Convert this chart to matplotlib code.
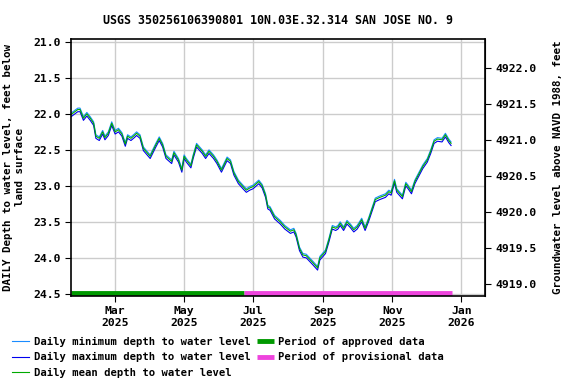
import matplotlib
matplotlib.use("Agg")
import matplotlib.pyplot as plt
import matplotlib.dates as mdates
import pandas as pd

fechas = [
    "2025-01-21", "2025-01-27", "2025-01-29", "2025-02-01", "2025-02-04", "2025-02-07", "2025-02-10", "2025-02-12", "2025-02-15", "2025-02-18",
    "2025-02-20", "2025-02-23", "2025-02-26", "2025-03-01", "2025-03-04", "2025-03-07", "2025-03-10", "2025-03-12", "2025-03-15", "2025-03-18",
    "2025-03-20", "2025-03-23", "2025-03-26", "2025-04-01", "2025-04-06", "2025-04-09", "2025-04-12", "2025-04-15", "2025-04-20", "2025-04-22",
    "2025-04-26", "2025-04-29", "2025-05-01", "2025-05-03", "2025-05-07", "2025-05-09", "2025-05-12", "2025-05-17", "2025-05-20", "2025-05-23",
    "2025-05-27", "2025-05-30", "2025-06-03", "2025-06-08", "2025-06-11", "2025-06-14", "2025-06-18", "2025-06-22", "2025-06-25", "2025-06-28",
    "2025-07-01", "2025-07-06", "2025-07-09", "2025-07-12", "2025-07-14", "2025-07-16", "2025-07-20", "2025-07-25", "2025-07-29", "2025-08-03",
    "2025-08-06", "2025-08-08", "2025-08-11", "2025-08-14", "2025-08-17", "2025-08-20", "2025-08-23", "2025-08-27", "2025-08-29", "2025-09-03",
    "2025-09-06", "2025-09-09", "2025-09-12", "2025-09-14", "2025-09-16", "2025-09-19", "2025-09-22", "2025-09-25", "2025-09-28", "2025-10-01",
    "2025-10-05", "2025-10-08", "2025-10-11", "2025-10-14", "2025-10-17", "2025-10-21", "2025-10-26", "2025-10-29", "2025-10-31", "2025-11-03",
    "2025-11-05", "2025-11-10", "2025-11-13", "2025-11-15", "2025-11-18", "2025-11-21", "2025-11-24", "2025-11-28", "2025-12-02", "2025-12-05",
    "2025-12-08", "2025-12-11", "2025-12-15", "2025-12-18", "2025-12-21", "2025-12-23",
]

prof_media = [
    22.01, 21.94, 21.94, 22.06, 22.00, 22.06, 22.13, 22.31, 22.34, 22.25,
    22.33, 22.27, 22.13, 22.25, 22.22, 22.28, 22.42, 22.31, 22.34, 22.30,
    22.27, 22.31, 22.48, 22.59, 22.43, 22.34, 22.43, 22.59, 22.66, 22.54,
    22.64, 22.78, 22.59, 22.64, 22.72, 22.59, 22.43, 22.52, 22.59, 22.52,
    22.59, 22.66, 22.78, 22.62, 22.66, 22.82, 22.94, 23.01, 23.06, 23.03,
    23.01, 22.94, 23.00, 23.13, 23.29, 23.31, 23.43, 23.50, 23.57, 23.63,
    23.61, 23.68, 23.87, 23.96, 23.97, 24.02, 24.07, 24.14, 24.00, 23.91,
    23.75, 23.57, 23.59, 23.57, 23.52, 23.59, 23.50, 23.55, 23.61, 23.57,
    23.47, 23.59, 23.47, 23.33, 23.19, 23.16, 23.13, 23.08, 23.10, 22.93,
    23.06, 23.15, 22.97, 23.01, 23.08, 22.94, 22.85, 22.73, 22.64, 22.52,
    22.38, 22.35, 22.36, 22.29, 22.37, 22.41,
]

prof_min = [
    21.99, 21.92, 21.92, 22.04, 21.98, 22.04, 22.11, 22.29, 22.32, 22.23,
    22.31, 22.25, 22.11, 22.23, 22.20, 22.26, 22.40, 22.29, 22.32, 22.28,
    22.25, 22.29, 22.46, 22.57, 22.41, 22.32, 22.41, 22.57, 22.64, 22.52,
    22.62, 22.76, 22.57, 22.62, 22.70, 22.57, 22.41, 22.50, 22.57, 22.50,
    22.57, 22.64, 22.76, 22.60, 22.64, 22.80, 22.92, 22.99, 23.04, 23.01,
    22.99, 22.92, 22.98, 23.11, 23.27, 23.29, 23.41, 23.48, 23.55, 23.61,
    23.59, 23.66, 23.85, 23.94, 23.95, 24.00, 24.05, 24.12, 23.98, 23.89,
    23.73, 23.55, 23.57, 23.55, 23.50, 23.57, 23.48, 23.53, 23.59, 23.55,
    23.45, 23.57, 23.45, 23.31, 23.17, 23.14, 23.11, 23.06, 23.08, 22.91,
    23.04, 23.13, 22.95, 22.99, 23.06, 22.92, 22.83, 22.71, 22.62, 22.50,
    22.36, 22.33, 22.34, 22.27, 22.35, 22.39,
]

prof_max = [
    22.04, 21.97, 21.97, 22.09, 22.03, 22.09, 22.16, 22.34, 22.37, 22.28,
    22.36, 22.30, 22.16, 22.28, 22.25, 22.31, 22.45, 22.34, 22.37, 22.33,
    22.30, 22.34, 22.51, 22.62, 22.46, 22.37, 22.46, 22.62, 22.69, 22.57,
    22.67, 22.81, 22.62, 22.67, 22.75, 22.62, 22.46, 22.55, 22.62, 22.55,
    22.62, 22.69, 22.81, 22.65, 22.69, 22.85, 22.97, 23.04, 23.09, 23.06,
    23.04, 22.97, 23.03, 23.16, 23.32, 23.34, 23.46, 23.53, 23.60, 23.66,
    23.64, 23.71, 23.90, 23.99, 24.00, 24.05, 24.10, 24.17, 24.03, 23.94,
    23.78, 23.60, 23.62, 23.60, 23.55, 23.62, 23.53, 23.58, 23.64, 23.60,
    23.50, 23.62, 23.50, 23.36, 23.22, 23.19, 23.16, 23.11, 23.13, 22.96,
    23.09, 23.18, 23.00, 23.04, 23.11, 22.97, 22.88, 22.76, 22.67, 22.55,
    22.41, 22.38, 22.39, 22.32, 22.40, 22.44,
]

# periodos de aprobacion
aprobado = ("2025-01-21", "2025-06-23")
provisional = ("2025-06-23", "2025-12-24")

# elevacion = referencia - profundidad
referencia = 4943.36

fechas = pd.to_datetime(fechas)
fuente = "DejaVu Sans Mono"

fig = plt.figure(figsize=(5.76, 3.84), dpi=100)
ax = fig.add_axes([71/576, 1 - 296/384, (485 - 71)/576, (296 - 39)/384])

ax.plot(fechas, prof_min, color="#1a8cff", lw=0.8, label="Daily minimum depth to water level")
ax.plot(fechas, prof_max, color="#0000ee", lw=0.8, label="Daily maximum depth to water level")
ax.plot(fechas, prof_media, color="#00aa00", lw=0.8, label="Daily mean depth to water level")

y_barra = 24.49
ax.plot(pd.to_datetime(list(aprobado)), [y_barra, y_barra], color="#009900", lw=3.5,
        solid_capstyle="butt", label="Period of approved data")
ax.plot(pd.to_datetime(list(provisional)), [y_barra, y_barra], color="#ee44dd", lw=3.5,
        solid_capstyle="butt", label="Period of provisional data")

ax.set_xlim(pd.Timestamp("2025-01-21"), pd.Timestamp("2026-01-22"))
ax.set_ylim(24.53, 20.96)
ax.set_yticks([21.0, 21.5, 22.0, 22.5, 23.0, 23.5, 24.0, 24.5])
ax.yaxis.set_major_formatter(plt.FormatStrFormatter("%.1f"))

ticks_x = pd.to_datetime(["2025-03-01", "2025-05-01", "2025-07-01", "2025-09-01", "2025-11-01", "2026-01-01"])
ax.set_xticks(ticks_x)
ax.xaxis.set_major_formatter(mdates.DateFormatter("%b\n%Y"))

ax.grid(True, color="#cccccc", lw=1)
ax.set_axisbelow(True)
for s in ax.spines.values():
    s.set_linewidth(1.2)

ax.tick_params(labelsize=8.2, length=4)
for lab in ax.get_xticklabels() + ax.get_yticklabels():
    lab.set_fontfamily(fuente)
    lab.set_fontweight("bold")

ax2 = ax.secondary_yaxis("right", functions=(lambda d: referencia - d, lambda e: referencia - e))
ax2.set_yticks([4919.0, 4919.5, 4920.0, 4920.5, 4921.0, 4921.5, 4922.0])
ax2.yaxis.set_major_formatter(plt.FormatStrFormatter("%.1f"))
ax2.tick_params(labelsize=8.2, length=4)
for lab in ax2.get_yticklabels():
    lab.set_fontfamily(fuente)
    lab.set_fontweight("bold")

ax.set_ylabel("DAILY Depth to water level, feet below\nland surface", fontsize=7.8,
              fontfamily=fuente, fontweight="bold", linespacing=1.2, labelpad=6)
ax2.set_ylabel("Groundwater level above NAVD 1988, feet", fontsize=7.8,
               fontfamily=fuente, fontweight="bold", labelpad=12)

ax.set_title("USGS 350256106390801 10N.03E.32.314 SAN JOSE NO. 9", fontsize=8.4,
             fontfamily=fuente, fontweight="bold", pad=11)

handles, labels = ax.get_legend_handles_labels()
fig.legend(handles, labels, loc="upper left", bbox_to_anchor=(12/576, 1 - 337/384),
           ncol=2, frameon=False, borderpad=0, borderaxespad=0,
           handlelength=1.6, handletextpad=0.45, labelspacing=0.5, columnspacing=0.6,
           prop={"family": fuente, "weight": "bold", "size": 7.6})

fig.savefig("out.png", dpi=100)
